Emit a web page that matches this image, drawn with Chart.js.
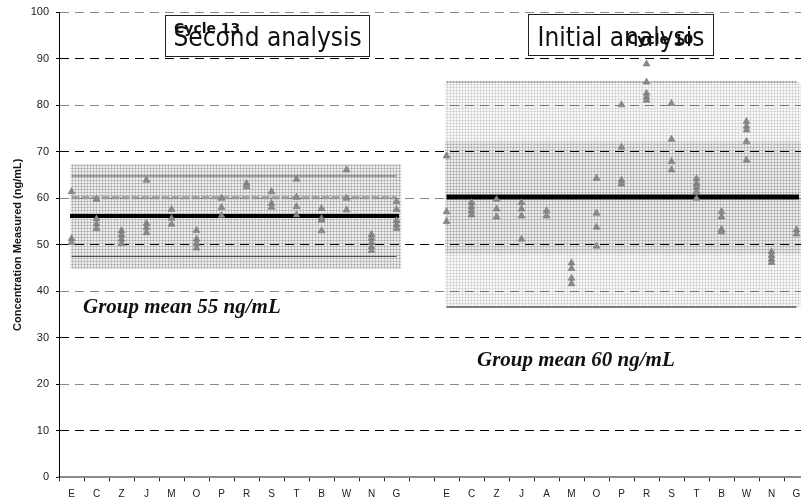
<!DOCTYPE html>
<html>
<head>
<meta charset="utf-8">
<script src="https://cdn.jsdelivr.net/npm/chart.js@4/dist/chart.umd.min.js"></script>
<style>
  html, body { margin: 0; padding: 0; background: #fff; overflow: hidden; }
  canvas { display: block; }
</style>
</head>
<body>
<canvas id="chart" width="801" height="503"></canvas>
<script>
// lab codes per panel (one empty slot separates the two cycles)
const labsCycle13 = ['E', 'C', 'Z', 'J', 'M', 'O', 'P', 'R', 'S', 'T', 'B', 'W', 'N', 'G'];
const labsCycle10 = ['E', 'C', 'Z', 'J', 'A', 'M', 'O', 'P', 'R', 'S', 'T', 'B', 'W', 'N', 'G'];
const xLabels = [...labsCycle13, '', ...labsCycle10];

// replicate results per lab (ng/mL)
const resultsCycle13 = [
  [61.4, 51.3, 50.5],
  [59.8, 55.6, 54.5, 53.5],
  [53.0, 52.1, 51.2, 50.3],
  [63.9, 54.6, 53.7, 52.6],
  [57.6, 55.7, 54.4],
  [53.1, 51.2, 50.3, 49.3],
  [60.0, 58.0, 56.3],
  [63.2, 62.5],
  [61.4, 58.9, 58.1],
  [64.1, 60.2, 58.2, 56.4],
  [57.8, 55.7, 55.3, 53.0],
  [66.1, 60.0, 57.5],
  [52.2, 51.4, 50.5, 49.6, 48.8],
  [59.3, 57.6, 55.2, 54.3, 53.5]
];
const resultsCycle10 = [
  [69.1, 57.1, 55.0],
  [59.1, 58.2, 57.3, 56.4],
  [59.8, 57.7, 56.0],
  [59.1, 57.7, 56.2, 51.2],
  [57.3, 56.2],
  [46.1, 44.9, 42.8, 41.6],
  [64.3, 56.8, 53.8, 49.7],
  [80.1, 71.0, 63.9, 63.1],
  [88.9, 85.0, 82.6, 81.8, 81.1],
  [80.4, 72.7, 67.9, 66.1],
  [64.2, 63.2, 62.4, 61.4, 60.0],
  [57.1, 56.0, 53.3, 52.8],
  [76.5, 75.5, 74.7, 72.2, 68.2],
  [48.5, 47.7, 46.9, 46.2],
  [53.2, 52.3]
];

// summary levels
const cycle13Mean = 56.2;
const cycle13Target = 60.1;
const cycle13Limits = [47.5, 64.8];
const cycle13Shade = [44.8, 67.4];
const cycle10Mean = 60.3;
const cycle10Limits = [36.6, 85.0];
const cycle10Shade = [36.6, 85.0];
const cycle10Inner = [48.0, 72.2];

const rightStart = labsCycle13.length + 1;

function makePattern(base, line) {
  const tile = document.createElement('canvas');
  tile.width = 3; tile.height = 3;
  const g = tile.getContext('2d');
  g.fillStyle = base; g.fillRect(0, 0, 3, 3);
  g.fillStyle = line; g.fillRect(0, 0, 3, 1); g.fillRect(0, 0, 1, 3);
  return g.createPattern(tile, 'repeat');
}

function toPoints(results, offset) {
  return results.flatMap((vals, i) => vals.map(v => ({ x: i + offset, y: v })));
}

function segment(x0, x1, y, color, width, dash, order) {
  return {
    data: [{ x: x0, y: y }, { x: x1, y: y }],
    borderColor: color, borderWidth: width, borderDash: dash || [],
    pointRadius: 0, fill: false, order: order
  };
}

function band(x0, x1, range, bg, order) {
  return {
    data: [{ x: x0, y: range[1] }, { x: x1, y: range[1] }],
    fill: { value: range[0] }, backgroundColor: bg,
    borderColor: 'rgba(0,0,0,0)', borderWidth: 0, pointRadius: 0, order: order
  };
}

const triangleStyle = {
  showLine: false, pointStyle: 'triangle', pointRadius: 4,
  pointBackgroundColor: '#8a8a8a', pointBorderColor: '#6a6a6a', pointBorderWidth: 0.5, order: 0
};

// titles boxes and group mean notes
const notes = {
  id: 'notes',
  afterDraw(chart) {
    const ctx = chart.ctx;
    ctx.save();
    const box = (x, y, w, h) => {
      ctx.fillStyle = '#fff'; ctx.fillRect(x, y, w, h);
      ctx.strokeStyle = '#222'; ctx.lineWidth = 1; ctx.strokeRect(x, y, w, h);
    };
    const big = '26px "DejaVu Sans Condensed", "DejaVu Sans", sans-serif';
    const small = 'bold 14px "DejaVu Sans", sans-serif';
    const serif = 'italic bold 21px "Liberation Serif", "Times New Roman", serif';
    box(165.5, 15.5, 204, 41);
    ctx.fillStyle = '#111'; ctx.font = big; ctx.textAlign = 'center'; ctx.textBaseline = 'alphabetic';
    ctx.fillText('Second analysis', 267.5, 46);
    ctx.font = small; ctx.textAlign = 'left';
    ctx.fillText('Cycle 13', 174, 33);
    box(528.5, 14.5, 185, 41);
    ctx.fillStyle = '#111'; ctx.font = big; ctx.textAlign = 'center';
    ctx.fillText('Initial analysis', 621, 46);
    ctx.font = small; ctx.textAlign = 'left';
    ctx.fillText('Cycle 10', 627, 44);
    ctx.font = serif;
    ctx.fillText('Group mean 55 ng/mL', 83, 313);
    ctx.fillText('Group mean 60 ng/mL', 477, 366);
    ctx.restore();
  }
};

new Chart(document.getElementById('chart'), {
  type: 'line',
  data: {
    datasets: [
      { ...triangleStyle, data: toPoints(resultsCycle13, 0) },
      { ...triangleStyle, data: toPoints(resultsCycle10, rightStart) },
      segment(-0.06, 13.1, cycle13Mean, '#000', 4, [], 1),
      segment(0, 13, cycle13Target, '#999', 3, [8, 2], 1),
      segment(0, 13, cycle13Limits[1], '#555', 1, [], 1),
      segment(0, 13, cycle13Limits[0], '#444', 1, [], 1),
      segment(rightStart, 29.1, cycle10Mean, '#000', 5, [], 1),
      segment(rightStart, 29, cycle10Limits[1], '#9a9a9a', 2, [2, 1], 1),
      segment(rightStart, 29, cycle10Limits[0], '#555', 1.5, [], 1),
      band(-0.05, 13.2, cycle13Shade, makePattern('rgba(0,0,0,0.07)', 'rgba(0,0,0,0.16)'), 3),
      band(rightStart - 0.06, 29.5, cycle10Inner, makePattern('rgba(0,0,0,0.05)', 'rgba(0,0,0,0.08)'), 2),
      band(rightStart - 0.06, 29.5, cycle10Shade, makePattern('rgba(0,0,0,0.03)', 'rgba(0,0,0,0.09)'), 4)
    ]
  },
  options: {
    responsive: false,
    animation: false,
    devicePixelRatio: 1,
    events: [],
    layout: { autoPadding: false, padding: { top: 12.3, right: 0, bottom: 0, left: 0 } },
    plugins: { legend: { display: false }, tooltip: { enabled: false } },
    scales: {
      x: {
        type: 'linear',
        min: -0.5,
        max: 29.18,
        afterBuildTicks: (axis) => { axis.ticks = xLabels.map((_, i) => ({ value: i })); },
        afterFit: (axis) => { axis.height = 25.7; axis.paddingLeft = 0; axis.paddingRight = 0; },
        grid: { display: true, drawOnChartArea: false, drawTicks: true, offset: true, tickLength: 4, tickColor: '#222', color: '#222' },
        border: { display: true, color: '#8c8c8c', width: 2 },
        ticks: {
          autoSkip: false, maxRotation: 0, minRotation: 0, padding: 6.5, color: '#222',
          font: { family: 'Liberation Sans', size: 10 },
          callback: (v) => xLabels[v] ?? ''
        }
      },
      y: {
        type: 'linear',
        min: 0,
        max: 100,
        afterFit: (axis) => { axis.width = 59; axis.paddingTop = 0; axis.paddingBottom = 0; },
        grid: {
          color: (c) => {
            const v = c.tick ? c.tick.value : null;
            if (v === 0) return 'rgba(0,0,0,0)';
            return v % 20 === 0 ? '#8a8a8a' : '#000';
          },
          lineWidth: 1, tickLength: 3, tickColor: '#000'
        },
        border: { display: true, color: '#000', width: 1, dash: [9, 6] },
        ticks: { stepSize: 10, padding: 7, color: '#222', font: { family: 'Liberation Sans', size: 11 } },
        title: {
          display: true, text: 'Concentration Measured (ng/mL)', color: '#111',
          font: { family: 'Liberation Sans', size: 11, weight: 'bold' },
          padding: { top: 11, bottom: 0 }
        }
      }
    }
  },
  plugins: [notes]
});
</script>
</body>
</html>
